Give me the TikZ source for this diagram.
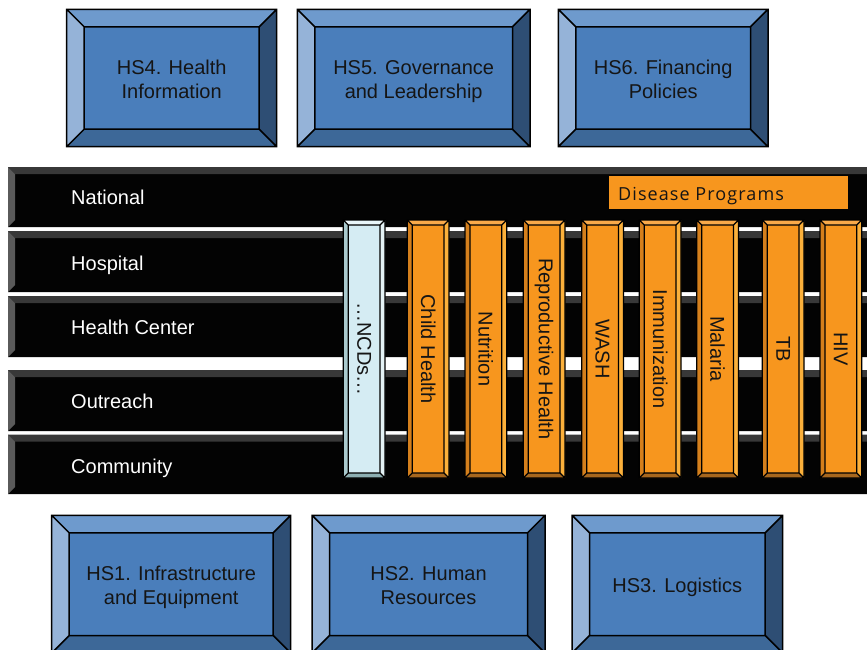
\documentclass[tikz,border=0pt]{standalone}
\usepackage{fontspec}
\setmainfont{Liberation Sans}
\newfontfamily\dpfont[LetterSpace=6]{Open Sans}

% colour schemes: face, top, bottom, left and right bevels
\definecolor{barface}{HTML}{030303}
\definecolor{bartop}{HTML}{383838}
\definecolor{barleft}{HTML}{5A5A5A}
\colorlet{barbottom}{barface}
\colorlet{barright}{barface}

\definecolor{blueface}{HTML}{4A7EBB}
\definecolor{bluetop}{HTML}{6E9ACD}
\definecolor{bluebottom}{HTML}{3D6898}
\definecolor{blueleft}{HTML}{95B3D8}
\definecolor{blueright}{HTML}{2E4E74}

\definecolor{orgface}{HTML}{F7961E}
\definecolor{orgtop}{HTML}{F9AA4A}
\definecolor{orgbottom}{HTML}{A7671E}
\definecolor{orgleft}{HTML}{D47F1C}
\definecolor{orgright}{HTML}{FBB03B}

\definecolor{ncdface}{HTML}{D5ECF3}
\definecolor{ncdtop}{HTML}{EAF6F9}
\definecolor{ncdbottom}{HTML}{8DAFB2}
\definecolor{ncdleft}{HTML}{A9C9CD}
\definecolor{ncdright}{HTML}{E4F2F5}

\definecolor{inktext}{HTML}{151515}

% bevelled rectangle: #1,#2 top-left, #3,#4 bottom-right, #5 bevel depth, #6 scheme
\newcommand{\bevelbox}[6]{%
  \fill[#6face] (#1,#2) rectangle (#3,#4);
  \fill[#6top] (#1,#2) -- (#3,#2) -- ({#3-#5},{#2+#5}) -- ({#1+#5},{#2+#5}) -- cycle;
  \fill[#6bottom] (#1,#4) -- (#3,#4) -- ({#3-#5},{#4-#5}) -- ({#1+#5},{#4-#5}) -- cycle;
  \fill[#6left] (#1,#2) -- ({#1+#5},{#2+#5}) -- ({#1+#5},{#4-#5}) -- (#1,#4) -- cycle;
  \fill[#6right] (#3,#2) -- ({#3-#5},{#2+#5}) -- ({#3-#5},{#4-#5}) -- (#3,#4) -- cycle;
  \path[#6edge] (#1,#2) rectangle (#3,#4)
    ({#1+#5},{#2+#5}) rectangle ({#3-#5},{#4-#5})
    (#1,#2) -- ({#1+#5},{#2+#5}) (#3,#2) -- ({#3-#5},{#2+#5})
    (#1,#4) -- ({#1+#5},{#4-#5}) (#3,#4) -- ({#3-#5},{#4-#5});
}

\tikzset{
  baredge/.style={draw=none},
  blueedge/.style={draw=black, line width=1.5pt, line join=miter},
  orgedge/.style={draw=black, line width=1.2pt},
  ncdedge/.style={draw=black, line width=1.2pt},
  levellabel/.style={text=white, anchor=base west, font=\fontsize{20}{24}\selectfont, inner sep=0pt},
  hsbox/.style={text=inktext, align=center, font=\fontsize{20}{24}\selectfont, inner sep=0pt},
  prog/.style={text=inktext, rotate=-90, font=\fontsize{20}{24}\selectfont, inner sep=0pt},
}

\begin{document}
\begin{tikzpicture}[x=1pt, y=-1pt]
\useasboundingbox (0,0) rectangle (867,650);
\clip (0,0) rectangle (867,650);

% health system levels
\bevelbox{8}{167}{880}{227}{7}{bar}
\bevelbox{8}{231}{880}{292}{7}{bar}
\bevelbox{8}{296}{880}{357}{7}{bar}
\bevelbox{8}{370}{880}{431}{7}{bar}
\bevelbox{8}{434.5}{880}{494}{7}{bar}

\node[levellabel] (national)  at (71,204) {National};
\node[levellabel] (hospital)  at (71,270) {Hospital};
\node[levellabel] (hcenter)   at (71,334) {Health Center};
\node[levellabel] (outreach)  at (71,408) {Outreach};
\node[levellabel] (community) at (71,473) {Community};

% disease programme banner
\fill[orgface] (609,176) rectangle (848,209);
\node[anchor=base west, inner sep=0pt, text=inktext, font=\dpfont\fontsize{18}{20}\selectfont] (dp) at (618,200) {Disease Programs};

% vertical programme columns
\bevelbox{343.3}{220}{385}{478}{5}{ncd}
\node[prog] (ncds) at (364.2,349) {…NCDs…};

\foreach \xl/\nm/\txt in {407.3/child/Child Health, 465/nutr/Nutrition,
    523.3/repro/Reproductive Health, 581.7/wash/WASH, 639.3/immu/Immunization,
    696.7/malaria/Malaria, 762.3/tb/TB, 820/hiv/HIV}{
  \bevelbox{\xl}{220}{\xl+41.7}{478}{5}{org}
  \node[prog] (\nm) at (\xl+20.85,349) {\txt};
}

% health system building blocks
\bevelbox{66.7}{9.3}{276.7}{146.7}{17.5}{blue}
\node[hsbox] (hs4) at (171.7,82.2) {HS4. Health\strut\\Information\strut};
\bevelbox{297.3}{9.3}{530}{146.7}{17.5}{blue}
\node[hsbox] (hs5) at (413.7,82.2) {HS5. Governance\strut\\and Leadership\strut};
\bevelbox{558.3}{9.3}{768}{146.7}{17.5}{blue}
\node[hsbox] (hs6) at (663.2,82.2) {HS6. Financing\strut\\Policies\strut};

\bevelbox{51.7}{515.3}{290.7}{653}{17.5}{blue}
\node[hsbox] (hs1) at (171.2,587.2) {HS1. Infrastructure\strut\\and Equipment\strut};
\bevelbox{312}{515.3}{545}{653}{17.5}{blue}
\node[hsbox] (hs2) at (428.5,587.2) {HS2. Human\strut\\Resources\strut};
\bevelbox{572}{515.3}{782.7}{653}{17.5}{blue}
\node[hsbox] (hs3) at (677.3,587.2) {HS3. Logistics\strut};
\end{tikzpicture}
\end{document}
